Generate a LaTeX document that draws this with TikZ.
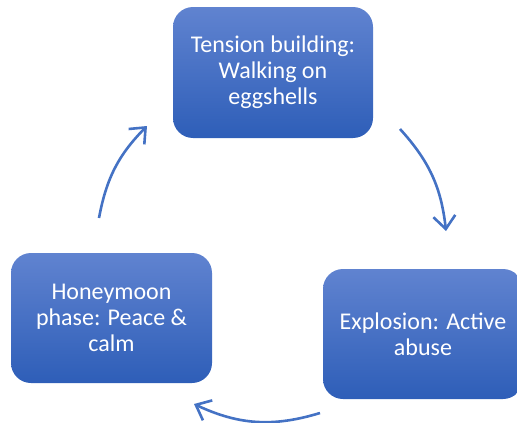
\documentclass[tikz,border=0pt]{standalone}
\usepackage{fontspec}
\setmainfont{Carlito}
\usetikzlibrary{arrows.meta}
\definecolor{boxtop}{RGB}{96,131,208}
\definecolor{boxbot}{RGB}{46,94,184}
\definecolor{arrowblue}{RGB}{68,114,196}
\tikzset{
  phase/.style={rectangle, rounded corners=20pt, minimum width=200pt, minimum height=131pt,
    top color=boxtop, bottom color=boxbot, draw=none, text=white, align=center,
    font=\fontsize{24}{26}\selectfont, inner sep=0pt},
  cyclearrow/.style={draw=arrowblue, line width=2.6pt,
    -{Straight Barb[length=13pt,width=22pt,line width=2.6pt]}}
}
\begin{document}
\begin{tikzpicture}[x=1pt,y=-1pt]
\useasboundingbox (0,0) rectangle (517,423);
\node[phase] (tension) at (273,72.5) {Tension building:\\Walking on\\eggshells};
\node[phase, minimum width=201pt, minimum height=130pt] (honey) at (111.5,318) {Honeymoon\\phase: Peace \&\\calm};
\node[phase, minimum height=130pt] (explosion) at (423,334) {Explosion: Active\\abuse};
\coordinate (a1s) at (400,129);
\coordinate (a1e) at (446,231);
\coordinate (a2s) at (320,413);
\coordinate (a2e) at (194,404);
\coordinate (a3s) at (99,218);
\coordinate (a3e) at (147,126);
\draw[cyclearrow] (a1s) to[bend left=18] (a1e);
\draw[cyclearrow] (a2s) to[bend left=21] (a2e);
\draw[cyclearrow] (a3s) to[bend left=17] (a3e);
\end{tikzpicture}
\end{document}
